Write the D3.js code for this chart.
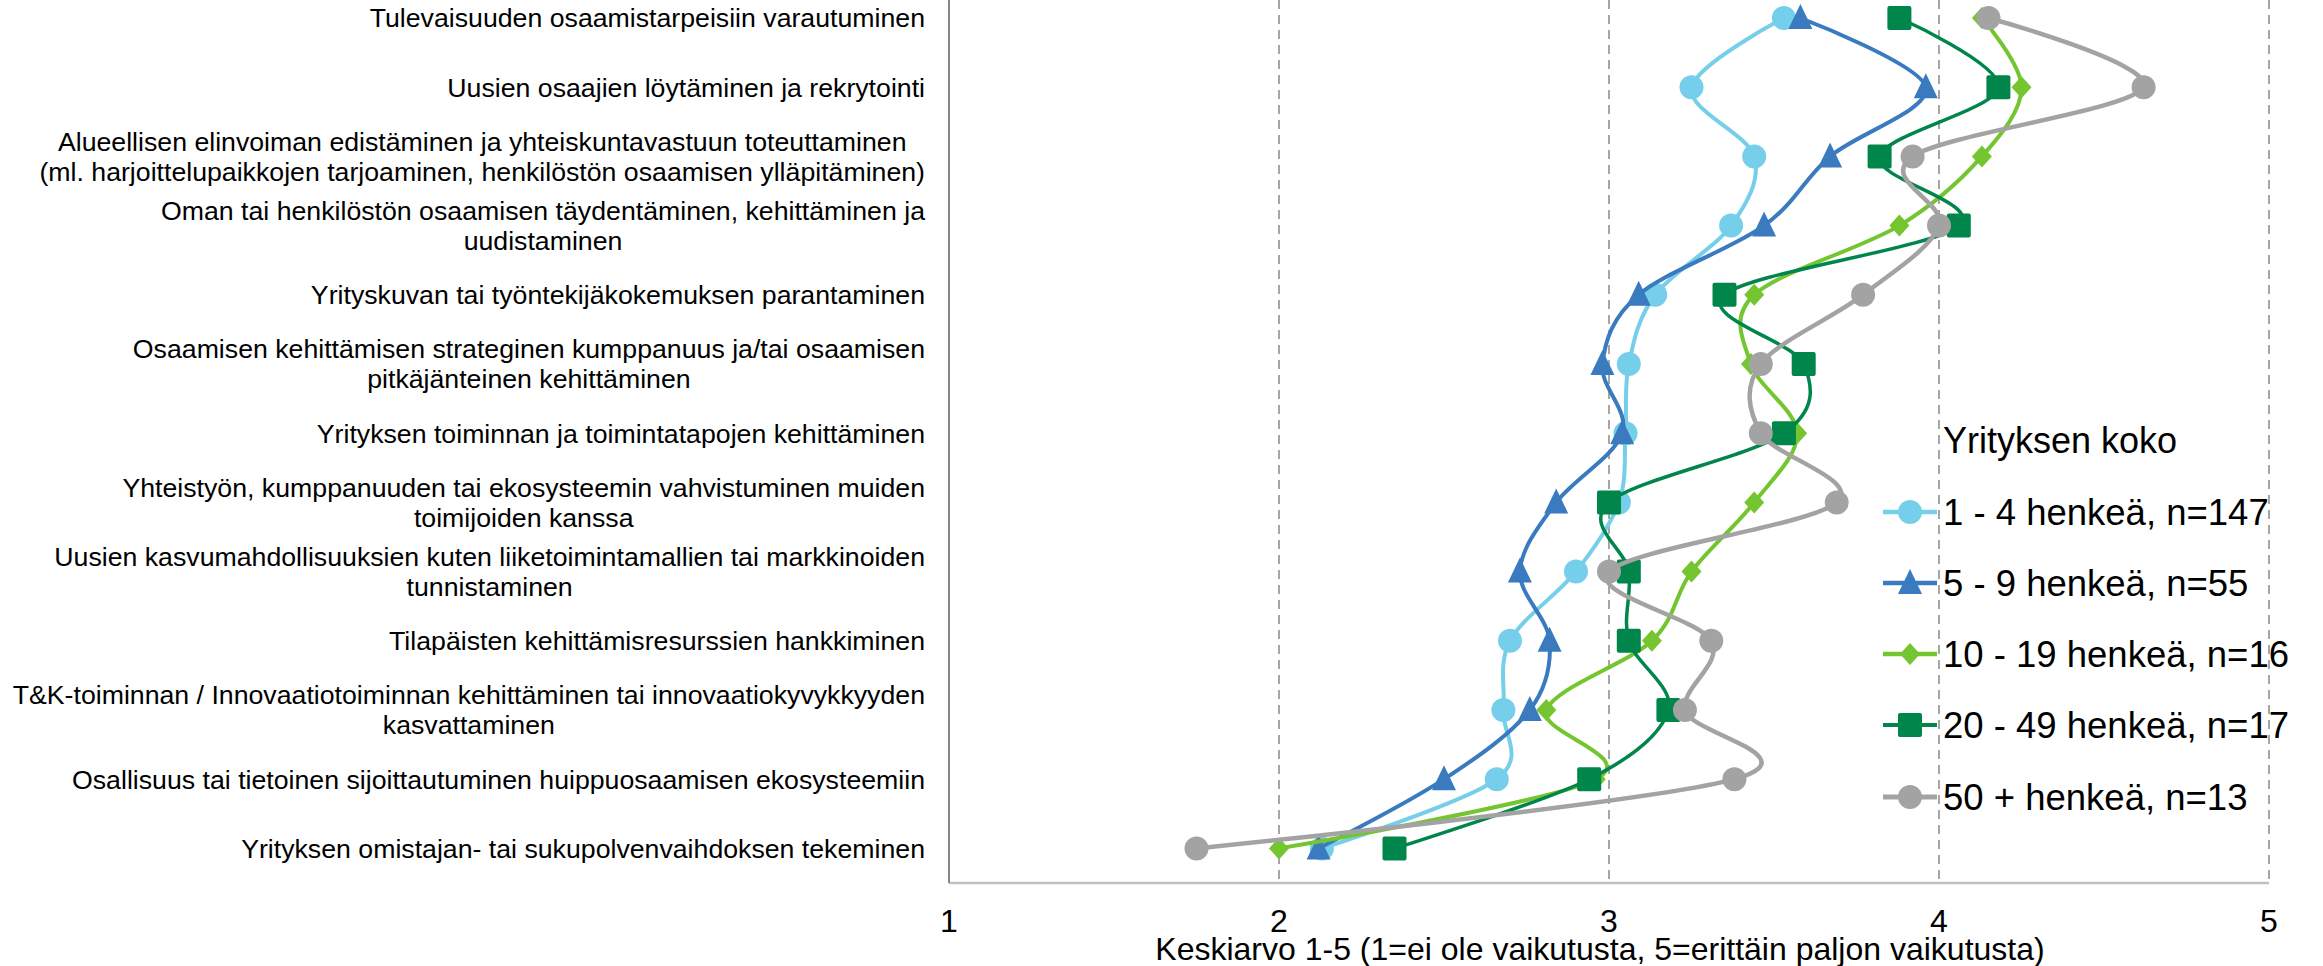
<!DOCTYPE html>
<html>
<head>
<meta charset="utf-8">
<script src="https://cdn.jsdelivr.net/npm/d3@7"></script>
<style>
  html, body { margin: 0; padding: 0; background: #fff; }
  svg { display: block; font-family: "Liberation Sans", Arial, sans-serif; }
</style>
</head>
<body>
<svg id="chart" width="2323" height="966"></svg>
<script>
// ---------- data ----------
const categories = [
  ["Tulevaisuuden osaamistarpeisiin varautuminen"],
  ["Uusien osaajien löytäminen ja rekrytointi"],
  ["Alueellisen elinvoiman edistäminen ja yhteiskuntavastuun toteuttaminen",
   "(ml. harjoittelupaikkojen tarjoaminen, henkilöstön osaamisen ylläpitäminen)"],
  ["Oman tai henkilöstön osaamisen täydentäminen, kehittäminen ja", "uudistaminen"],
  ["Yrityskuvan tai työntekijäkokemuksen parantaminen"],
  ["Osaamisen kehittämisen strateginen kumppanuus ja/tai osaamisen", "pitkäjänteinen kehittäminen"],
  ["Yrityksen toiminnan ja toimintatapojen kehittäminen"],
  ["Yhteistyön, kumppanuuden tai ekosysteemin vahvistuminen muiden", "toimijoiden kanssa"],
  ["Uusien kasvumahdollisuuksien kuten liiketoimintamallien tai markkinoiden", "tunnistaminen"],
  ["Tilapäisten kehittämisresurssien hankkiminen"],
  ["T&K-toiminnan / Innovaatiotoiminnan kehittäminen tai innovaatiokyvykkyyden", "kasvattaminen"],
  ["Osallisuus tai tietoinen sijoittautuminen huippuosaamisen ekosysteemiin"],
  ["Yrityksen omistajan- tai sukupolvenvaihdoksen tekeminen"]
];

const seriesNames = [
  "1 - 4 henkeä, n=147",
  "5 - 9 henkeä, n=55",
  "10 - 19 henkeä, n=16",
  "20 - 49 henkeä, n=17",
  "50 + henkeä, n=13"
];

const values_1_4   = [3.53, 3.25, 3.44, 3.37, 3.14, 3.06, 3.05, 3.03, 2.90, 2.70, 2.68, 2.66, 2.13];
const values_5_9   = [3.58, 3.96, 3.67, 3.47, 3.09, 2.98, 3.04, 2.84, 2.73, 2.82, 2.76, 2.50, 2.12];
const values_10_19 = [4.13, 4.25, 4.13, 3.88, 3.44, 3.43, 3.57, 3.44, 3.25, 3.13, 2.81, 2.96, 2.00];
const values_20_49 = [3.88, 4.18, 3.82, 4.06, 3.35, 3.59, 3.53, 3.00, 3.06, 3.06, 3.18, 2.94, 2.35];
const values_50    = [4.15, 4.62, 3.92, 4.00, 3.77, 3.46, 3.46, 3.69, 3.00, 3.31, 3.23, 3.38, 1.75];

const xTicks = [1, 2, 3, 4, 5];
const legendTitle = "Yrityksen koko";
const xTitle = "Keskiarvo 1-5 (1=ei ole vaikutusta, 5=erittäin paljon vaikutusta)";

// ---------- styles ----------
const colors = ["#75CFEA", "#3A7BBF", "#74C52F", "#00854A", "#A3A3A3"];
const widths = [4, 4, 4, 3.5, 4.5];
const symbols = ["circle", "triangle", "diamond", "square", "circle"];
const allValues = [values_1_4, values_5_9, values_10_19, values_20_49, values_50];

// ---------- layout ----------
const svg = d3.select("#chart");
const plotLeft = 949, plotRight = 2269, plotBottom = 883;
const step = 69.2;
const plotTop = plotBottom - step * categories.length;

const x = d3.scaleLinear().domain([1, 5]).range([plotLeft, plotRight]);
const y = d3.scaleBand().domain(d3.range(categories.length)).range([plotTop, plotBottom]).padding(0);
const yc = i => y(i) + y.bandwidth() / 2;

// gridlines
svg.append("g").selectAll("line").data(xTicks.filter(t => t > 1)).join("line")
  .attr("x1", d => x(d)).attr("x2", d => x(d))
  .attr("y1", 0).attr("y2", plotBottom)
  .attr("stroke", "#A6A6A6").attr("stroke-width", 2).attr("stroke-dasharray", "9,6");

// axes lines
svg.append("line").attr("x1", plotLeft).attr("x2", plotRight).attr("y1", plotBottom).attr("y2", plotBottom)
  .attr("stroke", "#BFBFBF").attr("stroke-width", 2.5);
svg.append("line").attr("x1", plotLeft).attr("x2", plotLeft).attr("y1", 0).attr("y2", plotBottom)
  .attr("stroke", "#868686").attr("stroke-width", 2);

// x tick labels
svg.append("g").selectAll("text").data(xTicks).join("text")
  .attr("x", d => x(d)).attr("y", 932)
  .attr("text-anchor", "middle").attr("font-size", 32).attr("fill", "#000")
  .text(d => d);

// x title
svg.append("text").attr("x", 1600).attr("y", 960).attr("text-anchor", "middle")
  .attr("font-size", 32).attr("fill", "#000").text(xTitle);

// category labels
const labelRight = 925, labelFont = 26.7, lineH = 30;
const catG = svg.append("g");
categories.forEach((lines, i) => {
  const g = catG.append("g");
  const texts = lines.map((ln, j) => g.append("text")
    .attr("font-size", labelFont).attr("fill", "#000")
    .attr("text-anchor", "middle")
    .attr("y", yc(i) + (j - (lines.length - 1) / 2) * lineH + labelFont * 0.35)
    .text(ln));
  const maxW = d3.max(texts, t => t.node().getComputedTextLength());
  texts.forEach(t => t.attr("x", labelRight - maxW / 2));
});

// markers
function drawMarker(sel, type, color, cx, cy) {
  if (type === "circle") {
    sel.append("circle").attr("cx", cx).attr("cy", cy).attr("r", 12).attr("fill", color);
  } else if (type === "square") {
    sel.append("rect").attr("x", cx - 12).attr("y", cy - 12).attr("width", 24).attr("height", 24)
      .attr("rx", 2).attr("fill", color);
  } else if (type === "triangle") {
    sel.append("path").attr("d", `M${cx},${cy - 14} L${cx + 12},${cy + 11} L${cx - 12},${cy + 11} Z`).attr("fill", color);
  } else if (type === "diamond") {
    sel.append("path").attr("d", `M${cx},${cy - 11} L${cx + 10},${cy} L${cx},${cy + 11} L${cx - 10},${cy} Z`).attr("fill", color);
  }
}

const line = d3.line().x(d => x(d.v)).y(d => yc(d.i)).curve(d3.curveCatmullRom.alpha(0));

allValues.forEach((vals, s) => {
  const data = vals.map((v, i) => ({ v, i }));
  const g = svg.append("g");
  g.append("path").datum(data).attr("d", line)
    .attr("fill", "none").attr("stroke", colors[s]).attr("stroke-width", widths[s])
    .attr("stroke-linejoin", "round").attr("stroke-linecap", "round");
  data.forEach(d => drawMarker(g, symbols[s], colors[s], x(d.v), yc(d.i)));
});

// legend
const lg = svg.append("g");
lg.append("text").attr("x", 1943).attr("y", 453).attr("font-size", 36).attr("fill", "#000").text(legendTitle);
const legY = [512, 583, 654, 725, 797];
seriesNames.forEach((name, s) => {
  const cy = legY[s];
  lg.append("line").attr("x1", 1883).attr("x2", 1937).attr("y1", cy).attr("y2", cy)
    .attr("stroke", colors[s]).attr("stroke-width", widths[s] + 0.5);
  drawMarker(lg, symbols[s], colors[s], 1910, cy);
  lg.append("text").attr("x", 1943).attr("y", cy + 13).attr("font-size", 36.5).attr("fill", "#000").text(name);
});
</script>
</body>
</html>
